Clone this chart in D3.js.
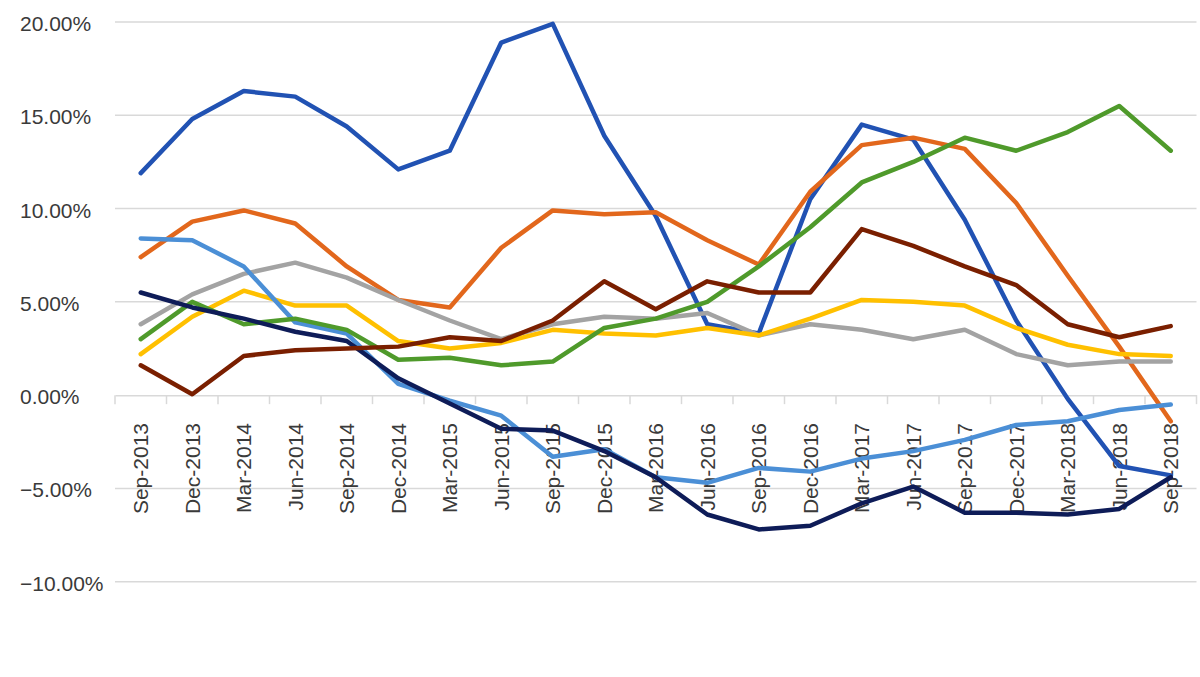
<!DOCTYPE html>
<html>
<head>
<meta charset="utf-8">
<script src="https://cdn.jsdelivr.net/npm/d3@7"></script>
<style>
  body { margin: 0; background: #fff; }
  svg { display: block; }
  text { font-family: "Liberation Sans", Arial, sans-serif; fill: #3a3a3a; }
</style>
</head>
<body>
<svg id="chart" width="1200" height="677"></svg>
<script>
// quarters on the category axis
var quarters = ["Sep-2013","Dec-2013","Mar-2014","Jun-2014","Sep-2014","Dec-2014","Mar-2015",
    "Jun-2015","Sep-2015","Dec-2015","Mar-2016","Jun-2016","Sep-2016","Dec-2016","Mar-2017",
    "Jun-2017","Sep-2017","Dec-2017","Mar-2018","Jun-2018","Sep-2018"];

var yTicks = [-10, -5, 0, 5, 10, 15, 20];

// values in percent
var blueSeries      = [11.9, 14.8, 16.3, 16.0, 14.4, 12.1, 13.1, 18.9, 19.9, 13.9, 9.6, 3.8, 3.3, 10.5, 14.5, 13.7, 9.4, 4.0, -0.2, -3.8, -4.3];
var orangeSeries    = [7.4, 9.3, 9.9, 9.2, 6.9, 5.1, 4.7, 7.9, 9.9, 9.7, 9.8, 8.3, 7.0, 10.9, 13.4, 13.8, 13.2, 10.3, 6.4, 2.6, -1.4];
var greySeries      = [3.8, 5.4, 6.5, 7.1, 6.3, 5.1, 4.0, 3.0, 3.8, 4.2, 4.1, 4.4, 3.2, 3.8, 3.5, 3.0, 3.5, 2.2, 1.6, 1.8, 1.8];
var yellowSeries    = [2.2, 4.2, 5.6, 4.8, 4.8, 2.9, 2.5, 2.8, 3.5, 3.3, 3.2, 3.6, 3.2, 4.1, 5.1, 5.0, 4.8, 3.6, 2.7, 2.2, 2.1];
var lightBlueSeries = [8.4, 8.3, 6.9, 3.9, 3.3, 0.6, -0.3, -1.1, -3.3, -2.9, -4.4, -4.7, -3.9, -4.1, -3.4, -3.0, -2.4, -1.6, -1.4, -0.8, -0.5];
var greenSeries     = [3.0, 5.0, 3.8, 4.1, 3.5, 1.9, 2.0, 1.6, 1.8, 3.6, 4.1, 5.0, 6.9, 9.0, 11.4, 12.5, 13.8, 13.1, 14.1, 15.5, 13.1];
var navySeries      = [5.5, 4.7, 4.1, 3.4, 2.9, 0.9, -0.45, -1.8, -1.9, -3.0, -4.4, -6.4, -7.2, -7.0, -5.8, -4.9, -6.3, -6.3, -6.4, -6.1, -4.4];
var brownSeries     = [1.6, 0.05, 2.1, 2.4, 2.5, 2.6, 3.1, 2.9, 4.0, 6.1, 4.6, 6.1, 5.5, 5.5, 8.9, 8.0, 6.9, 5.9, 3.8, 3.1, 3.7];

var seriesList = [
    {values: blueSeries,      color: "#2152b3"},
    {values: orangeSeries,    color: "#e2671c"},
    {values: greySeries,      color: "#a3a3a3"},
    {values: yellowSeries,    color: "#ffc000"},
    {values: lightBlueSeries, color: "#4b8fd6"},
    {values: greenSeries,     color: "#4f9a2b"},
    {values: navySeries,      color: "#0e1c58"},
    {values: brownSeries,     color: "#7a1f00"}
];

var svg = d3.select("#chart");

var x = d3.scaleBand()
    .domain(quarters)
    .range([115, 1196.5])
    .padding(0);

var y = d3.scaleLinear()
    .domain([-10, 20])
    .range([581.7, 22]);

function cx(q) { return x(q) + x.bandwidth() / 2; }

// horizontal gridlines
svg.append("g")
    .selectAll("line")
    .data(yTicks.filter(function (t) { return t !== 0; }))
    .enter().append("line")
    .attr("x1", 115)
    .attr("x2", 1196.5)
    .attr("y1", function (d) { return y(d); })
    .attr("y2", function (d) { return y(d); })
    .attr("stroke", "#d9d9d9")
    .attr("stroke-width", 1.5);

// y labels, left aligned like the original
svg.append("g")
    .selectAll("text")
    .data(yTicks)
    .enter().append("text")
    .attr("x", 20)
    .attr("y", function (d) { return y(d) + 9; })
    .style("font-size", "21px")
    .text(function (d) { return d3.format(".2f")(d) + "%"; });

// category axis at zero with tick marks between the quarters
var xAxis = svg.append("g")
    .attr("transform", "translate(0," + y(0) + ")")
    .call(d3.axisBottom(x).tickSize(0).tickFormat(""));
xAxis.select(".domain").attr("stroke", "#d9d9d9").attr("stroke-width", 1.5);

var tickPos = quarters.map(function (q) { return x(q); }).concat([1196.5]);
svg.append("g")
    .selectAll("line")
    .data(tickPos)
    .enter().append("line")
    .attr("x1", function (d) { return d; })
    .attr("x2", function (d) { return d; })
    .attr("y1", y(0))
    .attr("y2", y(0) + 9)
    .attr("stroke", "#d9d9d9")
    .attr("stroke-width", 1.5);

// rotated quarter labels
svg.append("g")
    .selectAll("text")
    .data(quarters)
    .enter().append("text")
    .attr("transform", function (d) { return "translate(" + (cx(d) + 7.5) + ",423) rotate(-90)"; })
    .attr("text-anchor", "end")
    .style("font-size", "21px")
    .text(function (d) { return d; });

// the lines
var line = d3.line()
    .x(function (d, i) { return cx(quarters[i]); })
    .y(function (d) { return y(d); });

svg.append("g")
    .selectAll("path")
    .data(seriesList)
    .enter().append("path")
    .attr("d", function (s) { return line(s.values); })
    .attr("fill", "none")
    .attr("stroke", function (s) { return s.color; })
    .attr("stroke-width", 4.5)
    .attr("stroke-linejoin", "round")
    .attr("stroke-linecap", "round");
</script>
</body>
</html>
